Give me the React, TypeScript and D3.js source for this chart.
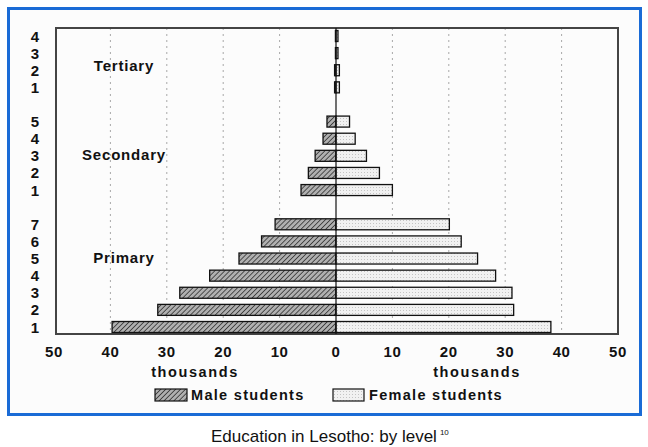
import React from "react";
import * as d3 from "d3";

const groups = ["Tertiary", "Secondary", "Primary"];
const rowGroups = [
  "Tertiary", "Tertiary", "Tertiary", "Tertiary",
  "Secondary", "Secondary", "Secondary", "Secondary", "Secondary",
  "Primary", "Primary", "Primary", "Primary", "Primary", "Primary", "Primary",
];
const rowLabels = ["4", "3", "2", "1", "5", "4", "3", "2", "1", "7", "6", "5", "4", "3", "2", "1"];
const maleValues = [0.1, 0.1, 0.25, 0.25, 1.6, 2.3, 3.7, 4.9, 6.2, 10.8, 13.2, 17.2, 22.4, 27.7, 31.6, 39.7];
const femaleValues = [0.35, 0.35, 0.6, 0.6, 2.4, 3.4, 5.4, 7.7, 10.0, 20.1, 22.2, 25.1, 28.3, 31.2, 31.5, 38.1];
const tickValues = [-50, -40, -30, -20, -10, 0, 10, 20, 30, 40, 50];
const unitLabel = "thousands";
const legendLabels = ["Male students", "Female students"];
const caption = "Education in Lesotho: by level";
const captionNote = "10";

const W = 648;
const H = 447;
const FONT = "'Liberation Sans', Arial, Helvetica, sans-serif";

export default function App() {
  const slots: string[] = [];
  groups.forEach((g, gi) => {
    if (gi > 0) slots.push("gap" + gi);
    rowGroups.forEach((rg, i) => {
      if (rg === g) slots.push("r" + i);
    });
  });
  const x = d3.scaleLinear().domain([-50, 50]).range([54, 618]);
  const y = d3.scalePoint<string>().domain(slots).range([36, 327]);
  const barH = 11;
  const boxTop = 28;
  const boxBottom = 334;
  const boxLeft = 56;
  const boxRight = 618;

  const groupLabelY = (g: string) => {
    const idx = rowGroups.map((rg, i) => (rg === g ? i : -1)).filter((i) => i >= 0);
    const ys = idx.map((i) => y("r" + i) as number);
    if (g === "Tertiary") return (ys[1] + ys[2]) / 2 + 4;
    return ys[2] - 1;
  };

  const bold = { fontFamily: FONT, fontWeight: 700, fill: "#111" } as const;

  return (
    <svg width={W} height={H} style={{ position: "absolute", left: 0, top: 0, background: "#fff" }}>
      <defs>
        <pattern id="maleHatch" width="3.5" height="3.5" patternUnits="userSpaceOnUse" patternTransform="rotate(45)">
          <rect width="3.5" height="3.5" fill="#b0b0b0" />
          <line x1="0" y1="0" x2="0" y2="3.5" stroke="#2a2a2a" strokeWidth="1.5" />
        </pattern>
        <pattern id="femaleDots" width="3" height="3" patternUnits="userSpaceOnUse">
          <rect width="3" height="3" fill="#f1f1f1" />
          <rect x="1" y="1" width="1" height="1" fill="#c4c4c4" />
        </pattern>
      </defs>

      <rect x={8.5} y={8.5} width={632} height={406} fill="#fcfcfc" stroke="#1a6bd6" strokeWidth={3} />

      {tickValues
        .filter((v) => v !== 0 && Math.abs(v) !== 50)
        .map((v) => (
          <line
            key={"g" + v}
            x1={x(v)}
            x2={x(v)}
            y1={boxTop}
            y2={boxBottom}
            stroke="#a8a8a8"
            strokeWidth={1}
            strokeDasharray="2,4"
          />
        ))}

      <rect x={boxLeft} y={boxTop} width={boxRight - boxLeft} height={boxBottom - boxTop} fill="none" stroke="#444" strokeWidth={2} />

      {rowLabels.map((_, i) => {
        const cy = y("r" + i) as number;
        return (
          <g key={"b" + i}>
            <rect
              x={x(-maleValues[i])}
              y={cy - barH / 2}
              width={x(0) - x(-maleValues[i])}
              height={barH}
              fill="url(#maleHatch)"
              stroke="#111"
              strokeWidth={1.3}
            />
            <rect
              x={x(0)}
              y={cy - barH / 2}
              width={x(femaleValues[i]) - x(0)}
              height={barH}
              fill="url(#femaleDots)"
              stroke="#111"
              strokeWidth={1.3}
            />
          </g>
        );
      })}

      <line x1={x(0)} x2={x(0)} y1={boxTop} y2={boxBottom} stroke="#111" strokeWidth={1.2} />

      {rowLabels.map((l, i) => (
        <text key={"rl" + i} x={35} y={(y("r" + i) as number) + 5.5} textAnchor="middle" fontSize={15} style={bold}>
          {l}
        </text>
      ))}

      {groups.map((g) => (
        <text
          key={g}
          x={124}
          y={groupLabelY(g) + 5}
          textAnchor="middle"
          fontSize={15}
          letterSpacing={0.8}
          style={bold}
        >
          {g}
        </text>
      ))}

      {tickValues.map((v) => (
        <text key={"t" + v} x={x(v)} y={357} textAnchor="middle" fontSize={15} letterSpacing={0.6} style={bold}>
          {Math.abs(v)}
        </text>
      ))}
      <text x={x(-25)} y={377} textAnchor="middle" fontSize={14.5} letterSpacing={1.6} style={bold}>
        {unitLabel}
      </text>
      <text x={x(25)} y={377} textAnchor="middle" fontSize={14.5} letterSpacing={1.6} style={bold}>
        {unitLabel}
      </text>

      <rect x={155} y={389} width={32} height={12} fill="url(#maleHatch)" stroke="#111" strokeWidth={1.2} />
      <text x={191} y={400} fontSize={14.5} letterSpacing={1.3} style={bold}>
        {legendLabels[0]}
      </text>
      <rect x={333} y={389} width={31} height={12} fill="url(#femaleDots)" stroke="#111" strokeWidth={1.2} />
      <text x={369} y={400} fontSize={14.5} letterSpacing={1.3} style={bold}>
        {legendLabels[1]}
      </text>

      <text x={211} y={442} fontSize={17} fill="#111" style={{ fontFamily: FONT }}>
        {caption}
        <tspan dx={3} dy={-7} fontSize={8}>
          {captionNote}
        </tspan>
      </text>
    </svg>
  );
}
